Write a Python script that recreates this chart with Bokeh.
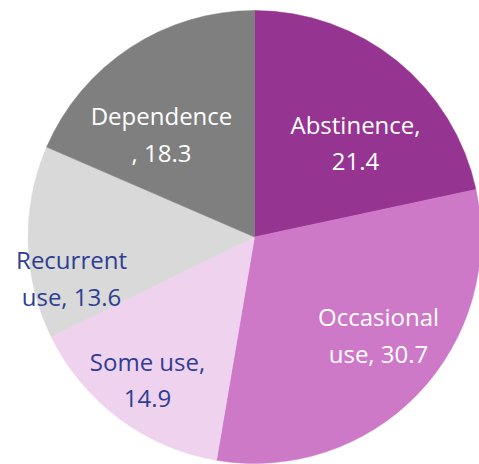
import math
from bokeh.plotting import figure
from bokeh.models import ColumnDataSource, Range1d
from bokeh.core.properties import value
from bokeh.embed import file_html
from bokeh.resources import INLINE

categories = ["Abstinence", "Occasional use", "Some use", "Recurrent use", "Dependence"]
values = [21.4, 30.7, 14.9, 13.6, 18.3]
colors = ["#953591", "#CE78C8", "#EFD3EE", "#D9D9D9", "#7F7F7F"]
text_colors = ["white", "white", "#2F3E93", "#2F3E93", "white"]
# label lines as shown in the chart
label_lines = [
    ["Abstinence,", "21.4"],
    ["Occasional", "use, 30.7"],
    ["Some use,", "14.9"],
    ["Recurrent", "use, 13.6"],
    ["Dependence", ", 18.3"],
]

W, H = 479, 464
cx, cy, R = 254, 227.5, 226.5
# label centre (pixel coords on page) for each slice
label_pos = [(355, 142), (378, 334), (147, 379), (71, 277), (161, 133)]
line_gap = 37

total = sum(values)
starts, ends = [], []
acc = 0.0
for v in values:
    starts.append(math.pi / 2 - acc / total * 2 * math.pi)
    acc += v
    ends.append(math.pi / 2 - acc / total * 2 * math.pi)

src = ColumnDataSource(dict(cat=categories, val=values, color=colors,
                            start=starts, end=ends))

p = figure(width=W, height=H, output_backend="svg", toolbar_location=None,
           x_range=Range1d(0, W), y_range=Range1d(0, H), min_border=0)
p.axis.visible = False
p.grid.visible = False
p.outline_line_color = None
p.background_fill_color = "white"

p.wedge(x=cx, y=cy, radius=R, start_angle="start", end_angle="end",
        direction="clock", fill_color="color", line_color="color",
        line_width=0.5, source=src)

tx, ty, tt, tc = [], [], [], []
for (px, py), lines, col in zip(label_pos, label_lines, text_colors):
    n = len(lines)
    for i, ln in enumerate(lines):
        yy = py + (i - (n - 1) / 2) * line_gap
        tx.append(px)
        ty.append(H - yy)
        tt.append(ln)
        tc.append(col)

p.text(x=tx, y=ty, text=tt, text_color=tc, text_align="center",
       text_baseline="middle", text_font=value("Open Sans"),
       text_font_size="24px")

open("out.html", "w").write(file_html(p, INLINE))
